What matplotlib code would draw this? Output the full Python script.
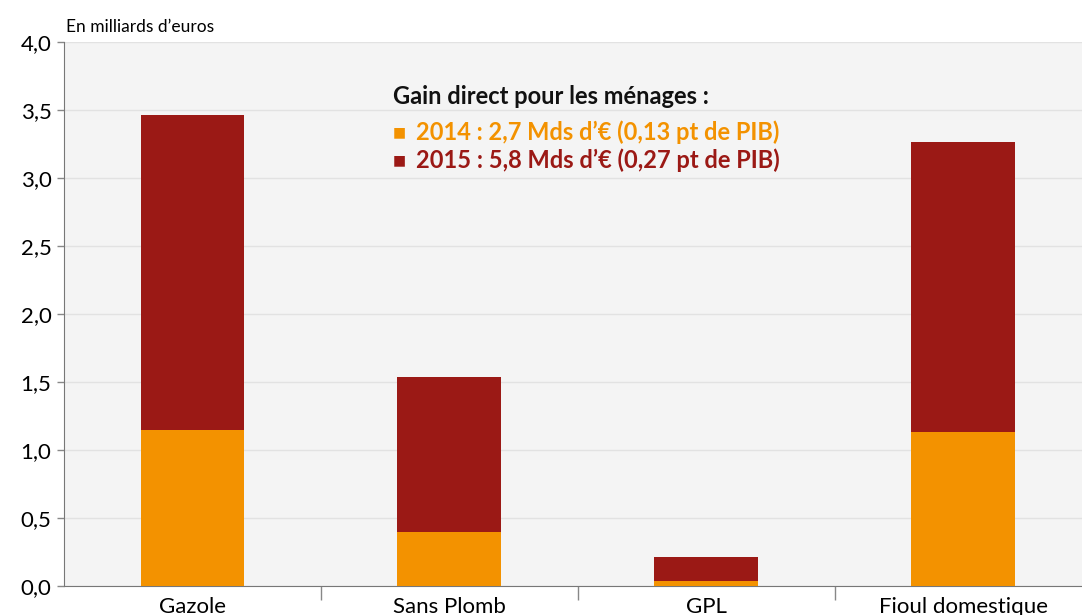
import numpy as np
import matplotlib.pyplot as plt

plt.rcParams['font.family'] = ['Lato', 'DejaVu Sans']

categories = ['Gazole', 'Sans Plomb', 'GPL', 'Fioul domestique']
gain_2014 = [1.15, 0.40, 0.035, 1.13]
gain_2015 = [2.31, 1.14, 0.175, 2.135]
yticks = [0.0, 0.5, 1.0, 1.5, 2.0, 2.5, 3.0, 3.5, 4.0]
legend_lines = ['2014 : 2,7 Mds d\u2019\u20ac (0,13 pt de PIB)',
                '2015 : 5,8 Mds d\u2019\u20ac (0,27 pt de PIB)']

orange = '#f39200'
darkred = '#9b1915'

W, H = 1082, 615
fig = plt.figure(figsize=(W / 100, H / 100), dpi=100)
ax = fig.add_axes([64 / W, (H - 586) / H, (W - 64) / W, (586 - 42) / H])
ax.set_facecolor('#f4f4f4')

x = np.arange(len(categories))
width = 104 / 257
ax.bar(x, gain_2014, width, color=orange, zorder=3)
ax.bar(x, gain_2015, width, bottom=gain_2014, color=darkred, zorder=3)

ax.set_xlim(-0.5, 3.5 - 10 / 257)
ax.set_ylim(0, 4.0)
ax.set_yticks(yticks)
ax.set_yticklabels([('%.1f' % v).replace('.', ',') for v in yticks], fontsize=16)
ax.yaxis.grid(True, color='#e2e2e2', linewidth=1, zorder=0)

# separators between categories instead of centered ticks
ax.set_xticks(x[:-1] + 0.5)
ax.set_xticklabels([])
ax.tick_params(axis='x', length=10, color='#888888', width=1)
ax.tick_params(axis='y', length=5, color='#888888', width=1, pad=4)
for xi, name in zip(x, categories):
    ax.text(xi, -0.08, name, ha='center', va='top', fontsize=16,
            transform=ax.transData)

for s in ['top', 'right']:
    ax.spines[s].set_visible(False)
ax.spines['left'].set_color('#777777')
ax.spines['bottom'].set_color('#777777')

fig.text(66 / W, 1 - 27 / H, 'En milliards d\u2019euros', fontsize=12.5, va='center')

fig.text(393 / W, 1 - 97 / H, 'Gain direct pour les m\u00e9nages :', fontsize=17,
         fontweight='bold', va='center', color='#111111')
for i, (txt, col) in enumerate(zip(legend_lines, [orange, darkred])):
    y = 1 - (132 + 28 * i) / H
    fig.text(393 / W, y, '\u25a0', fontsize=10, va='center', color=col)
    fig.text(416 / W, y, txt, fontsize=17, fontweight='bold', va='center', color=col)

fig.savefig('out.png', dpi=100)
